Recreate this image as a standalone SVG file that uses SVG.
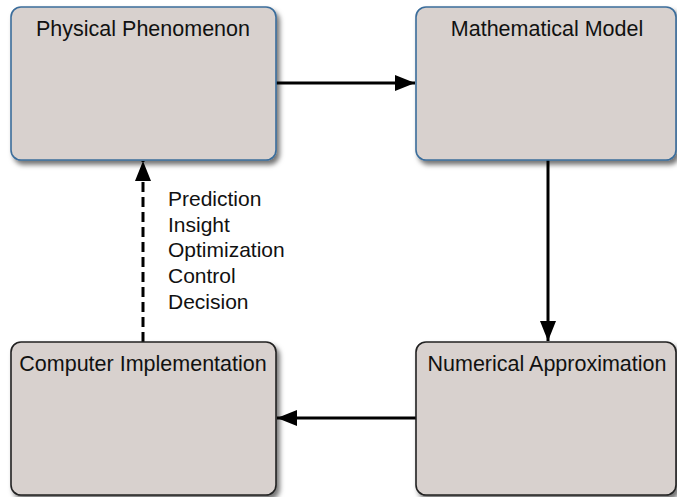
<svg xmlns="http://www.w3.org/2000/svg" width="677" height="497" viewBox="0 0 677 497">
<style>
.box{fill:#d8d1ce;stroke-width:1.6}
.top{stroke:#3b6d9b}
.bot{stroke:#222}
.t{font-family:"Liberation Sans",Arial,sans-serif;font-size:21.5px;fill:#111}
.c{text-anchor:middle}
.lbl{font-family:"Liberation Sans",Arial,sans-serif;font-size:21px;fill:#111}
.edge{stroke:#000;stroke-width:3;fill:none}
</style>
<defs>
<filter id="sh" x="-10%" y="-10%" width="130%" height="130%">
<feDropShadow dx="3" dy="4" stdDeviation="2.5" flood-color="#000" flood-opacity="0.55"/>
</filter>
<marker id="ah" markerUnits="userSpaceOnUse" markerWidth="20" markerHeight="16" refX="20" refY="8" orient="auto">
<path d="M0,0 L20,8 L0,16 z" fill="#000"/>
</marker>
</defs>
<rect width="677" height="497" fill="#fff"/>
<g id="connectors">
<line class="edge" x1="276" y1="83" x2="415" y2="83" marker-end="url(#ah)"/>
<line class="edge" x1="548" y1="160" x2="548" y2="341" marker-end="url(#ah)"/>
<line class="edge" x1="416" y1="418" x2="277" y2="418" marker-end="url(#ah)"/>
<line class="edge" x1="143" y1="342" x2="143" y2="161" stroke-dasharray="10,5" marker-end="url(#ah)"/>
</g>
<g id="physical">
<rect class="box top" x="11" y="7" width="265" height="153" rx="10" filter="url(#sh)"/>
<text class="t c" x="143" y="36">Physical Phenomenon</text>
</g>
<g id="mathematical">
<rect class="box top" x="416" y="7" width="260" height="153" rx="10" filter="url(#sh)"/>
<text class="t c" x="547" y="36">Mathematical Model</text>
</g>
<g id="computer">
<rect class="box bot" x="11" y="342" width="265" height="153" rx="10" filter="url(#sh)"/>
<text class="t c" x="143" y="371">Computer Implementation</text>
</g>
<g id="numerical">
<rect class="box bot" x="416" y="342" width="260" height="153" rx="10" filter="url(#sh)"/>
<text class="t c" x="547" y="371">Numerical Approximation</text>
</g>
<g id="label">
<text class="lbl" x="168" y="206">Prediction</text>
<text class="lbl" x="168" y="232">Insight</text>
<text class="lbl" x="168" y="257">Optimization</text>
<text class="lbl" x="168" y="283">Control</text>
<text class="lbl" x="168" y="309">Decision</text>
</g>
</svg>
